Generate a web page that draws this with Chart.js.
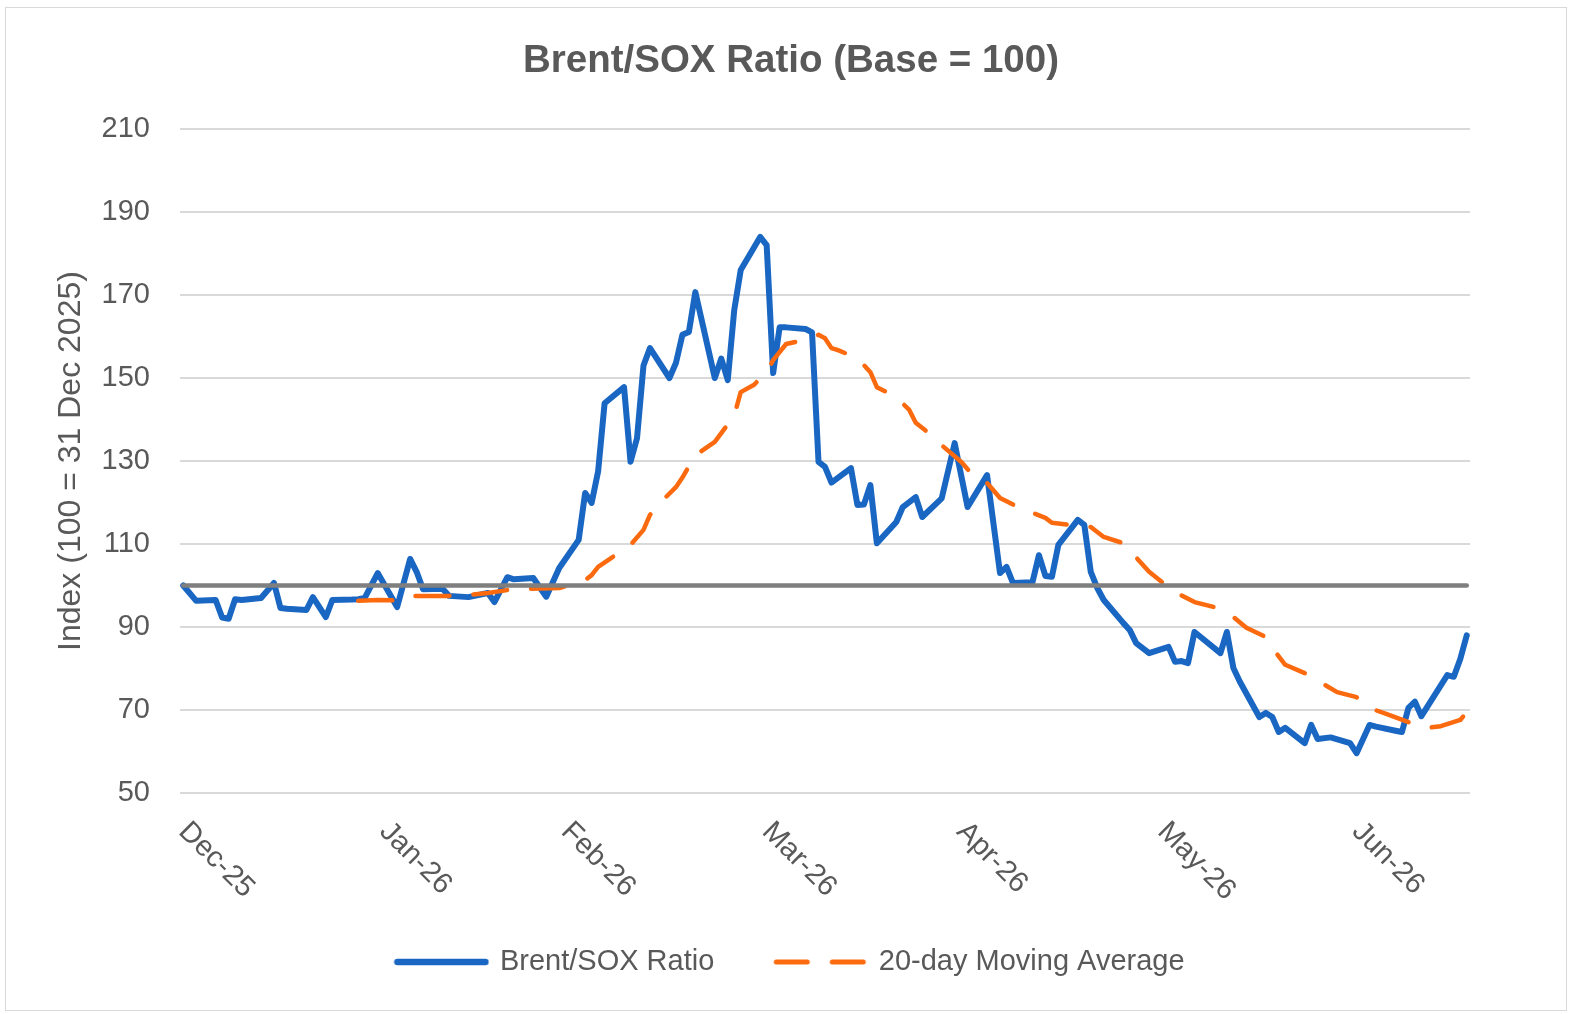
<!DOCTYPE html>
<html>
<head>
<meta charset="utf-8">
<title>Brent/SOX Ratio</title>
<script src="https://cdn.jsdelivr.net/npm/chart.js@4.4.1/dist/chart.umd.min.js"></script>
<style>
  html, body { margin: 0; padding: 0; background: #fff; }
  #wrap { position: relative; width: 1572px; height: 1014px; }
  #frame { position: absolute; left: 5px; top: 7px; width: 1560px; height: 1002px; border: 1px solid #d9d9d9; pointer-events: none; }
</style>
</head>
<body>
<div id="wrap">
  <canvas id="ratioChart"></canvas>
  <div id="frame"></div>
</div>
<script>
// days counted from 31 Dec 2025 (day 0)
const ratioDays = [0, 2, 5, 6, 7, 8, 9, 12, 14, 15, 16, 19, 20, 22, 23, 26, 27, 28, 30, 33,
  35, 36, 37, 40, 41, 44, 47, 48, 50, 51, 54, 56, 58, 61, 62, 63, 64, 65, 68, 69,
  70, 71, 72, 75, 76, 77, 78, 79, 82, 83, 84, 85, 86, 89, 90, 91, 92, 93, 96, 97,
  98, 99, 100, 103, 104, 105, 106, 107, 110, 111, 113, 114, 117, 119, 121, 124, 126, 127, 128, 131,
  132, 133, 134, 135, 138, 139, 140, 141, 142, 145, 146, 147, 149, 152, 153, 154, 155, 156, 160, 161,
  162, 163, 166, 167, 168, 169, 170, 173, 174, 175, 177, 180, 181, 183, 184, 187, 188, 189, 190, 191,
  195, 196, 197, 198];
const ratioValues = [100, 96.3, 96.5, 92.3, 92.0, 96.7, 96.5, 97.0, 100.6, 94.6, 94.4, 94.1, 97.2, 92.4, 96.5, 96.6, 96.7, 97.0, 103.0, 94.8,
  106.4, 103.3, 99.1, 99.2, 97.5, 97.2, 98.2, 96.0, 102.0, 101.5, 101.8, 97.3, 104.2, 111.0, 122.3, 119.9, 127.5, 143.9, 147.8, 129.8,
  135.5, 153.0, 157.2, 150.0, 153.6, 160.4, 161.1, 170.7, 150.0, 154.7, 149.5, 166.4, 176.0, 184.0, 182.0, 151.2, 162.2, 162.2, 161.8, 161.0,
  129.8, 128.6, 124.8, 128.3, 119.4, 119.5, 124.2, 110.2, 115.3, 118.9, 121.3, 116.5, 121.0, 134.3, 118.9, 126.6, 103.0, 104.5, 100.6, 100.8,
  107.3, 102.3, 102.1, 109.8, 115.8, 114.6, 103.3, 99.4, 96.5, 91.0, 89.3, 86.1, 83.7, 85.2, 81.6, 81.8, 81.3, 88.8, 83.7, 88.8,
  80.1, 76.8, 68.3, 69.3, 68.3, 64.7, 65.7, 62.0, 66.4, 63.0, 63.4, 62.0, 59.6, 66.4, 66.0, 65.0, 64.7, 70.5, 72.0, 68.5,
  78.4, 78.0, 82.3, 88.0];

const maDays = [27, 30, 33, 35, 41, 44, 47, 50, 53, 58, 62, 63, 64, 66, 69, 71, 72, 74, 76, 77,
  79, 82, 83, 85, 86, 88, 90, 91, 93, 97, 98, 99, 100, 101, 104, 106, 107, 110, 112, 113,
  116, 117, 120, 122, 124, 126, 129, 133, 134, 137, 140, 142, 145, 149, 151, 153, 156, 159, 162, 164,
  167, 168, 170, 173, 178, 181, 183, 186, 189, 192, 194, 197, 198];
const maValues = [96.3, 96.5, 96.4, 97.5, 97.5, 97.7, 98.2, 98.9, 99.2, 99.4, 101.3, 102.5, 104.5, 106.6, 109.8, 113.4, 117.0, 120.6, 123.7, 126.0,
  131.4, 134.6, 136.7, 141.0, 146.6, 148.3, 151.4, 154.3, 158.2, 159.6, 160.4, 159.6, 157.2, 156.7, 154.8, 151.4, 147.8, 145.4, 142.3, 139.2,
  135.5, 133.8, 129.8, 126.2, 124.7, 121.1, 118.7, 116.3, 115.1, 114.6, 114.1, 111.7, 110.2, 103.3, 100.8, 98.4, 96.0, 94.8, 92.4, 89.8,
  87.6, 84.9, 80.9, 78.9, 74.3, 73.1, 70.5, 68.8, 67.1, 65.7, 66.1, 67.6, 69.5];

const baseDays = [0, 198];
const baseValues = [100, 100];

const tickDays = [0, 31, 59, 90, 120, 151, 181];
const tickLabels = ['Dec-25', 'Jan-26', 'Feb-26', 'Mar-26', 'Apr-26', 'May-26', 'Jun-26'];

const FONT = "'Liberation Sans', Arial, sans-serif";
const TEXT = '#595959';
const BLUE = '#1966c3';
const ORANGE = '#fb6a0e';

function toPoints(days, values) {
  return days.map((d, i) => ({ x: d, y: values[i] }));
}

// small canvas used as the legend marker, so the dash shows in the legend
function legendMarker(color, width, dash) {
  const c = document.createElement('canvas');
  c.width = 96;
  c.height = 12;
  const g = c.getContext('2d');
  g.strokeStyle = color;
  g.lineWidth = width;
  g.lineCap = 'round';
  g.setLineDash(dash);
  g.beginPath();
  g.moveTo(4, 6);
  g.lineTo(92, 6);
  g.stroke();
  return c;
}

// month labels rotated clockwise, starting at the tick (like the Excel axis)
const monthLabels = {
  id: 'monthLabels',
  afterDraw(chart) {
    const ctx = chart.ctx;
    const xs = chart.scales.x;
    ctx.save();
    ctx.font = '29px ' + FONT;
    ctx.fillStyle = TEXT;
    ctx.textAlign = 'left';
    ctx.textBaseline = 'middle';
    tickDays.forEach((d, i) => {
      ctx.save();
      ctx.translate(xs.getPixelForValue(d), chart.chartArea.bottom + 34);
      ctx.rotate(Math.PI / 4);
      ctx.fillText(tickLabels[i], 0, 0);
      ctx.restore();
    });
    ctx.restore();
  }
};

new Chart(document.getElementById('ratioChart'), {
  type: 'line',
  data: {
    datasets: [{
      label: 'Brent/SOX Ratio',
      data: toPoints(ratioDays, ratioValues),
      borderColor: BLUE,
      backgroundColor: BLUE,
      borderWidth: 6,
      borderJoinStyle: 'round',
      borderCapStyle: 'round',
      pointRadius: 0,
      pointStyle: legendMarker(BLUE, 6.5, []),
      tension: 0,
      order: 3
    }, {
      label: '20-day Moving Average',
      data: toPoints(maDays, maValues),
      borderColor: ORANGE,
      backgroundColor: ORANGE,
      borderWidth: 4.5,
      borderDash: [34, 24],
      borderJoinStyle: 'round',
      borderCapStyle: 'round',
      pointRadius: 0,
      pointStyle: legendMarker(ORANGE, 5, [31, 25]),
      tension: 0,
      order: 2
    }, {
      label: 'Base',
      data: toPoints(baseDays, baseValues),
      borderColor: '#7f7f7f',
      borderWidth: 4.5,
      borderCapStyle: 'round',
      pointRadius: 0,
      order: 1
    }]
  },
  options: {
    responsive: true,
    maintainAspectRatio: false,
    animation: false,
    layout: { padding: { left: 10, right: 0, top: 0, bottom: 27.5 } },
    plugins: {
      title: {
        display: true,
        text: 'Brent/SOX Ratio (Base = 100)',
        color: TEXT,
        font: { size: 38.5, weight: 'bold', family: FONT },
        padding: { top: 38.5, bottom: 44.3 }
      },
      legend: {
        position: 'bottom',
        labels: {
          usePointStyle: true,
          pointStyleWidth: 88,
          color: TEXT,
          font: { size: 29, family: FONT },
          padding: 62,
          filter: item => item.text !== 'Base',
          sort: (a, b) => a.datasetIndex - b.datasetIndex
        }
      },
      tooltip: { enabled: false }
    },
    scales: {
      x: {
        type: 'linear',
        min: -0.5,
        max: 198.5,
        ticks: { display: false },
        grid: { display: false },
        border: { display: false },
        afterFit: s => { s.height = 92.5; }
      },
      y: {
        min: 50,
        max: 210,
        ticks: { stepSize: 20, color: TEXT, font: { size: 29, family: FONT }, padding: 30 },
        grid: { color: '#d9d9d9', lineWidth: 2, drawTicks: false },
        border: { display: false },
        title: {
          display: true,
          text: 'Index (100 = 31 Dec 2025)',
          color: TEXT,
          font: { size: 32, family: FONT },
          padding: { top: 42, bottom: 0 }
        },
        afterFit: s => { s.width = 170; }
      },
      yRight: {
        position: 'right',
        ticks: { display: false },
        grid: { display: false },
        border: { display: false },
        afterFit: s => { s.width = 102; }
      }
    }
  },
  plugins: [monthLabels]
});
</script>
</body>
</html>
